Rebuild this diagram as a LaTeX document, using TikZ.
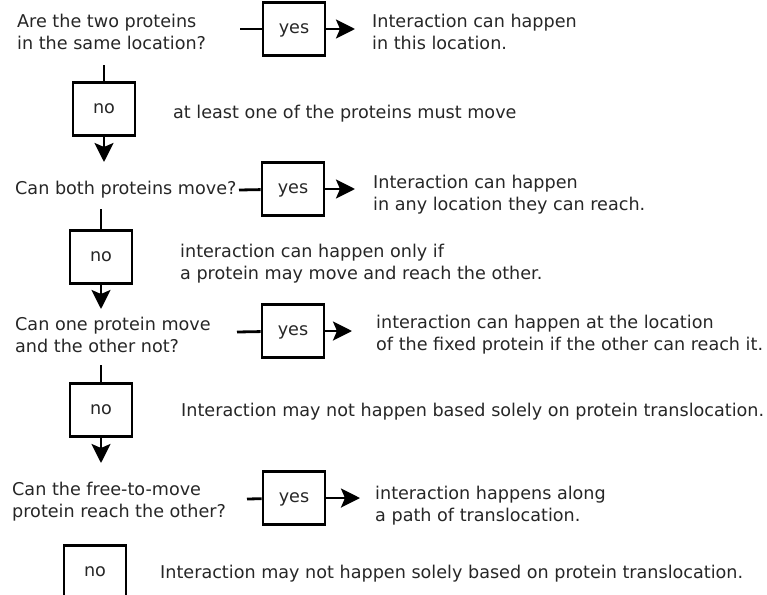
\documentclass[tikz,border=0pt]{standalone}
\usepackage{fontspec}
\setmainfont{DejaVu Sans}
\usetikzlibrary{arrows.meta}

\tikzset{
  choice/.style={draw, line width=2.8pt, minimum width=62pt, minimum height=53pt, inner sep=0pt, text height=9.6pt, text depth=0pt},
  say/.style={anchor=west, inner sep=0pt, align=left},
  link/.style={line width=2.8pt},
  go/.style={line width=2.8pt, -{Stealth[length=19pt,width=19pt,inset=4pt]}},
}

\begin{document}
\begin{tikzpicture}[x=1pt, y=-1pt, every node/.style={font=\fontsize{17.6}{22}\selectfont, text=black!85}]
\useasboundingbox (0,0) rectangle (767,594);
\clip (0,0) rectangle (767,594);

% same location?
\node[say] (q1) at (17,32) {Are the two proteins\\in the same location?};
\node[choice] (yes1) at (294,29) {yes};
\node[say] (a1) at (372,32) {Interaction can happen\\in this location.};
\coordinate (in1) at (240,29);
\coordinate (out1) at (355,29);
\draw[link] (in1) -- (yes1);
\draw[go] (yes1) -- (out1);

\node[choice] (no1) at (104,109) {no};
\node[say] (n1) at (173,114) {at least one of the proteins must move};
\coordinate (dn1) at (104,65);
\coordinate (end1) at (104,162);
\draw[link] (dn1) -- (no1);
\draw[go] (no1) -- (end1);

% both move?
\node[say] (q2) at (15,190) {Can both proteins move?};
\node[choice] (yes2) at (293,189) {yes};
\node[say] (a2) at (373,195) {Interaction can happen\\in any location they can reach.};
\coordinate (in2) at (239,190);
\coordinate (out2) at (355,189);
\draw[link] (in2) -- (yes2);
\draw[go] (yes2) -- (out2);

\node[choice] (no2) at (101,257) {no};
\node[say] (n2) at (180,264) {interaction can happen only if\\a protein may move and reach the other.};
\coordinate (dn2) at (101,209);
\coordinate (end2) at (101,309);
\draw[link] (dn2) -- (no2);
\draw[go] (no2) -- (end2);

% one moves, the other not?
\node[say] (q3) at (15,335) {Can one protein move\\and the other not?};
\node[choice] (yes3) at (293,331) {yes};
\node[say] (a3) at (376,335) {interaction can happen at the location\\of the fixed protein if the other can reach it.};
\coordinate (in3) at (237,332);
\coordinate (out3) at (352,331);
\draw[link] (in3) -- (yes3);
\draw[go] (yes3) -- (out3);

\node[choice] (no3) at (101,410) {no};
\node[say] (n3) at (181,412) {Interaction may not happen based solely on protein translocation.};
\coordinate (dn3) at (101,365);
\coordinate (end3) at (101,463);
\draw[link] (dn3) -- (no3);
\draw[go] (no3) -- (end3);

% free-to-move reaches the other?
\node[say] (q4) at (12,502) {Can the free-to-move\\protein reach the other?};
\node[choice] (yes4) at (294,498) {yes};
\node[say] (a4) at (375,506) {interaction happens along\\a path of translocation.};
\coordinate (in4) at (247,499);
\coordinate (out4) at (360,498);
\draw[link] (in4) -- (yes4);
\draw[go] (yes4) -- (out4);

\node[choice] (no4) at (95,572) {no};
\node[say] (n4) at (160,574) {Interaction may not happen solely based on protein translocation.};

\end{tikzpicture}
\end{document}
